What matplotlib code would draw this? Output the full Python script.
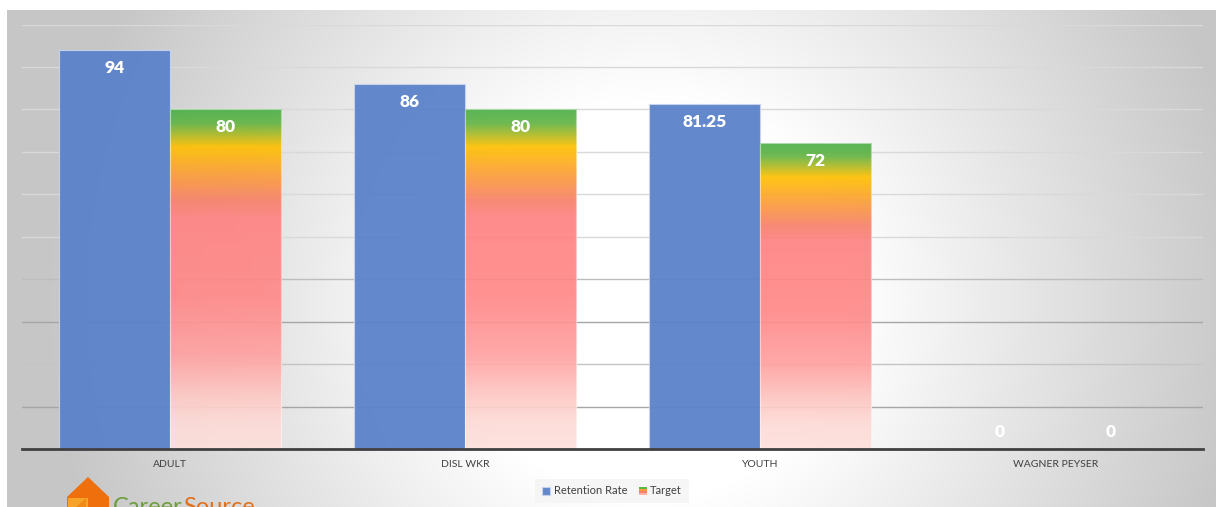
import numpy as np
import matplotlib
matplotlib.use("Agg")
import matplotlib.pyplot as plt
from matplotlib.colors import LinearSegmentedColormap
from matplotlib.patches import Rectangle, Polygon
from matplotlib.legend_handler import HandlerBase

plt.rcParams['font.family'] = ['Lato', 'DejaVu Sans']

# data
categories = ["ADULT", "DISL WKR", "YOUTH", "WAGNER PEYSER"]
retention = [94, 86, 81.25, 0]
target = [80, 80, 72, 0]
retention_labels = ["94", "86", "81.25", "0"]
target_labels = ["80", "80", "72", "0"]

W, H = 1218, 507
fig = plt.figure(figsize=(W / 100, H / 100), dpi=100)
fig.patch.set_facecolor("white")

# radial grey background panel
bg = fig.add_axes([7 / W, 0, (1216 - 7) / W, (507 - 10) / H], zorder=0)
xs = np.arange(7, 1216)
ys = np.arange(10, 507)
X, Y = np.meshgrid(xs, ys)
d = np.sqrt((X - 650) ** 2 + (Y - 300) ** 2)
v = 1 - np.clip((d - 200) / 400, 0, 1)
g = 0.78 + 0.22 * v
bg.imshow(np.dstack([g, g, g]), aspect="auto", interpolation="bilinear")
bg.set_axis_off()

# plot area
ax = fig.add_axes([22 / W, 58 / H, 1181 / W, 424.5 / H], zorder=1)
ax.set_facecolor("none")

x = np.arange(len(categories))
w = 0.376
blue = ax.bar(x - w / 2, retention, w, color="#5b82c9", alpha=0.95,
              edgecolor="#c8d4ee", linewidth=0.8, zorder=2,
              label="Retention Rate")
tgt = ax.bar(x + w / 2, target, w, color="none", edgecolor="none",
             zorder=2, label="Target")

# gradient fill for target bars (top -> bottom)
stops = [(0.0, "#4caf48"), (0.04, "#62b444"), (0.11, "#ffc000"),
         (0.20, "#fb9a3c"), (0.27, "#f7806a"), (0.32, "#ff8282"),
         (0.55, "#ff8888"), (0.72, "#ffa0a0"), (0.85, "#fdcac5"),
         (0.92, "#fddad6"), (1.0, "#fde0dc")]
cmap = LinearSegmentedColormap.from_list("tgt", stops)
grad = cmap(np.linspace(0, 1, 256))[:, None, :]
grad[..., 3] = 0.92
for rect in tgt:
    h = rect.get_height()
    if h <= 0:
        continue
    x0 = rect.get_x()
    ax.imshow(grad, extent=[x0, x0 + rect.get_width(), 0, h],
              aspect="auto", interpolation="bilinear", zorder=2)
    ax.add_patch(Rectangle((x0, 0), rect.get_width(), h, fill=False,
                           edgecolor=(1, 1, 1, 0.5), linewidth=0.8, zorder=2.1))

ax.set_xlim(-0.5, len(categories) - 0.5)
ax.set_ylim(0, 100)
ax.set_yticks(np.arange(10, 101, 10))
ax.set_axisbelow(True)
ax.grid(axis="y", color="#d9d9d9", linewidth=1)
ax.grid(axis="x", visible=False)
grid_cols = {10: "#a6a6a6", 20: "#c4c4c4", 30: "#a6a6a6", 40: "#bdbdbd"}
for val, line in zip(ax.get_yticks(), ax.yaxis.get_gridlines()):
    if int(round(val)) in grid_cols:
        line.set_color(grid_cols[int(round(val))])
ax.tick_params(axis="y", length=0, labelleft=False)
ax.tick_params(axis="x", length=0, pad=8, labelsize=7.5, labelcolor="#404040")
ax.set_xticks(x)
ax.set_xticklabels(categories)
for s in ["left", "right", "top"]:
    ax.spines[s].set_visible(False)
ax.spines["bottom"].set_color("#404040")
ax.spines["bottom"].set_linewidth(2)
ax.spines["bottom"].set_zorder(3)

# data labels
for bars, labels in [(blue, retention_labels), (tgt, target_labels)]:
    for rect, lab in zip(bars, labels):
        h = rect.get_height()
        off = -13 if h > 0 else 12.5
        ax.annotate(lab, (rect.get_x() + rect.get_width() / 2, h),
                    xytext=(0, off), textcoords="offset points",
                    ha="center", va="center", color="white",
                    fontsize=12.5, fontweight="heavy", zorder=4)


class GradHandler(HandlerBase):
    def create_artists(self, legend, orig_handle, xdescent, ydescent,
                       width, height, fontsize, trans):
        s = height
        x0 = -xdescent + (width - s) / 2
        y0 = -ydescent
        cols = ["#ffb0a8", "#f7806a", "#fb9a3c", "#5cb846"]
        return [Rectangle((x0, y0 + i * s / 4), s, s / 4, facecolor=c,
                          edgecolor="none", transform=trans)
                for i, c in enumerate(cols)]


leg = fig.legend([blue, tgt], ["Retention Rate", "Target"],
                 handler_map={tgt: GradHandler()},
                 loc="center", bbox_to_anchor=(612 / W, 1 - 491 / H),
                 ncol=2, fontsize=8, frameon=True, fancybox=False,
                 handlelength=0.75, handleheight=0.75, handletextpad=0.3,
                 columnspacing=1.0, borderpad=0.6)
leg.get_frame().set_facecolor("#f4f4f4")
leg.get_frame().set_edgecolor("none")
for t in leg.get_texts():
    t.set_color("#404040")

# logo at bottom left (cut off by the figure edge, as in the source)
def px(xp, yp):
    return (xp / W, 1 - yp / H)

fig.patches.append(Polygon([px(67, 497), px(88, 477), px(109, 497),
                            px(109, 507), px(67, 507)], closed=True,
                           facecolor="#ee6f0c", edgecolor="none",
                           transform=fig.transFigure, figure=fig, zorder=5))
fig.patches.append(Polygon([px(68, 498), px(88, 498), px(88, 507), px(68, 507)],
                           closed=True, facecolor="#f6a329", edgecolor="none",
                           transform=fig.transFigure, figure=fig, zorder=5))
fig.patches.append(Polygon([px(76, 507), px(86, 498), px(86, 507)],
                           closed=True, facecolor="#f08a16", edgecolor="none",
                           transform=fig.transFigure, figure=fig, zorder=5))
t1 = fig.text(113 / W, 1 - 514 / H, "Career", color="#6b9e3a",
              fontsize=17, va="baseline", ha="left", zorder=5)
fig.canvas.draw()
ext = t1.get_window_extent()
fig.text(ext.x1 / W, 1 - 514 / H, "Source", color="#e2701a",
         fontsize=17, va="baseline", ha="left", zorder=5)

fig.savefig("out.png", dpi=100)
